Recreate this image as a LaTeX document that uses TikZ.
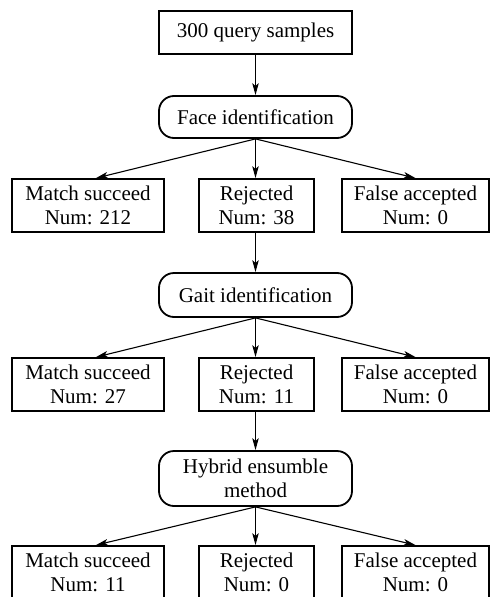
\documentclass[tikz,border=0pt]{standalone}
\usepackage{fontspec}
\setmainfont{Liberation Serif}
\usetikzlibrary{arrows.meta}
\begin{document}
\begin{tikzpicture}[x=1pt,y=-1pt,
  box/.style={draw,line width=1.8pt,inner sep=0pt,align=center,
    font=\fontsize{21}{24}\selectfont},
  rbox/.style={box,rounded corners=15pt},
  arr/.style={line width=1.1pt,-{Stealth[length=12pt,width=6.5pt,inset=3pt]}}]
\useasboundingbox (0,0) rectangle (491,597);
\clip (0,0) rectangle (491,597);
\node[box,minimum width=193pt,minimum height=43pt] (top) at (255.5,32.5) {300 query samples};
\node[rbox,minimum width=193pt,minimum height=42pt] (face) at (255.5,117) {Face identification};
\node[box,minimum width=152pt,minimum height=53pt] (a1) at (88,205.5) {Match succeed\\Num: 212};
\node[box,minimum width=115pt,minimum height=53pt] (b1) at (256.5,205.5) {Rejected\\Num: 38};
\node[box,minimum width=147pt,minimum height=53pt] (c1) at (415.5,205.5) {False accepted\\Num: 0};
\node[rbox,minimum width=193pt,minimum height=44pt] (gait) at (255.5,295) {Gait identification};
\node[box,minimum width=152pt,minimum height=53pt] (a2) at (88,384.5) {Match succeed\\Num: 27};
\node[box,minimum width=115pt,minimum height=53pt] (b2) at (256.5,384.5) {Rejected\\Num: 11};
\node[box,minimum width=147pt,minimum height=53pt] (c2) at (415.5,384.5) {False accepted\\Num: 0};
\node[rbox,minimum width=193pt,minimum height=55pt] (hyb) at (255.5,478.5) {Hybrid ensumble\\method};
\node[box,minimum width=152pt,minimum height=53pt] (a3) at (88,572.5) {Match succeed\\Num: 11};
\node[box,minimum width=115pt,minimum height=53pt] (b3) at (256.5,572.5) {Rejected\\Num: 0};
\node[box,minimum width=147pt,minimum height=53pt] (c3) at (415.5,572.5) {False accepted\\Num: 0};
\draw[arr] (top.south) -- (face.north);
\draw[arr] (face.south) -- ([xshift=8pt]a1.north);
\draw[arr] (face.south) -- (face.south |- b1.north);
\draw[arr] (face.south) -- (c1.north);
\draw[arr] (b1.south -| face.south) -- (gait.north);
\draw[arr] (gait.south) -- ([xshift=8pt]a2.north);
\draw[arr] (gait.south) -- (gait.south |- b2.north);
\draw[arr] (gait.south) -- (c2.north);
\draw[arr] (b2.south -| gait.south) -- (hyb.north);
\draw[arr] (hyb.south) -- ([xshift=8pt]a3.north);
\draw[arr] (hyb.south) -- (hyb.south |- b3.north);
\draw[arr] (hyb.south) -- (c3.north);
\end{tikzpicture}
\end{document}
